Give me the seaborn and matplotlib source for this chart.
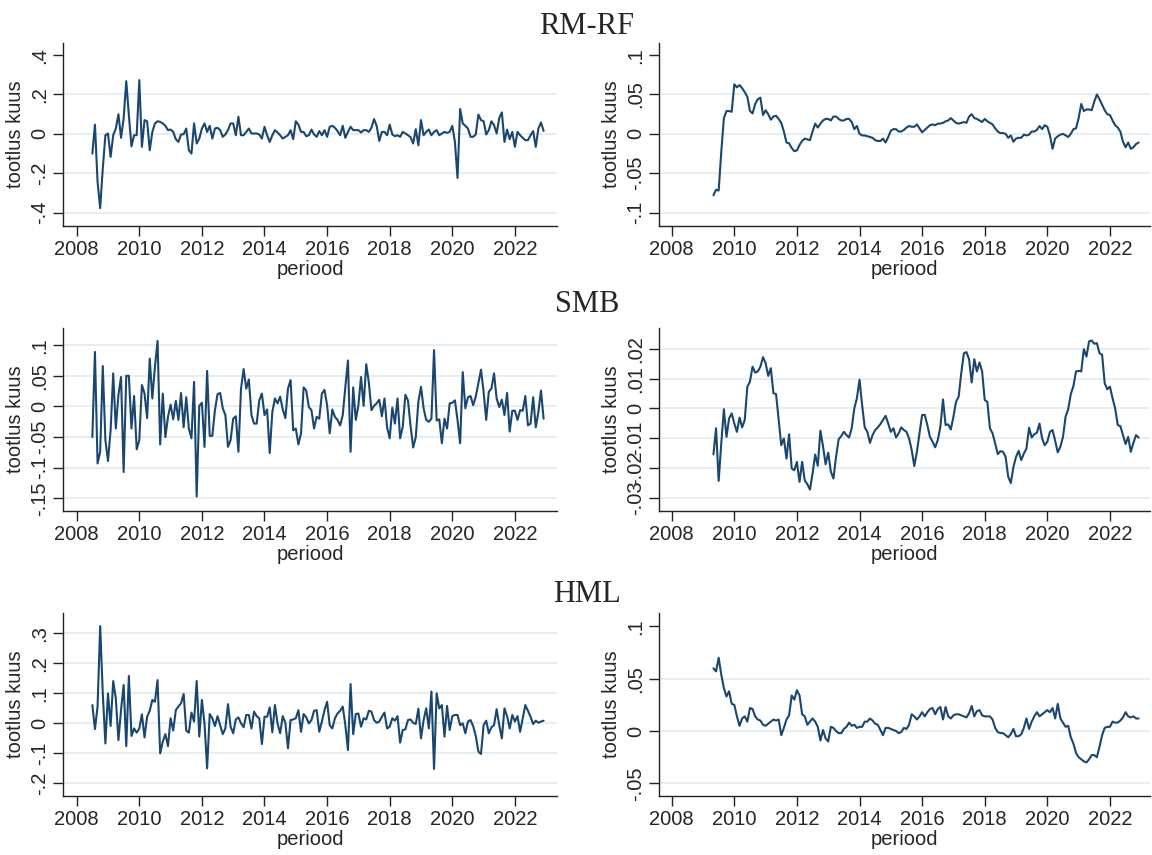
import numpy as np
import pandas as pd
import matplotlib
matplotlib.use("Agg")
import matplotlib.pyplot as plt
import seaborn as sns

# ---------------- data (monthly) ----------------
raw_start = "2008-07"
roll_start = "2009-05"

rmrf_raw = [
    -0.100, 0.047, -0.244, -0.377, -0.176, -0.007,
    0.002, -0.117, -0.007, 0.027, 0.100, -0.020, 0.078, 0.268, 0.095, -0.063, -0.007, -0.007,
    0.273, -0.066, 0.070, 0.064, -0.083, 0.010, 0.053, 0.064, 0.061, 0.053, 0.041, 0.019,
    0.022, 0.010, -0.027, -0.041, -0.003, -0.002, 0.027, -0.083, -0.100, 0.053, -0.049, -0.024,
    0.027, 0.053, 0.010, 0.041, -0.024, 0.027, 0.031, 0.019, -0.015, -0.003, 0.019, 0.053,
    0.053, -0.007, 0.087, -0.007, -0.007, 0.010, 0.027, 0.002, 0.002, 0.002, -0.003, -0.024,
    0.036, -0.007, -0.041, -0.007, 0.019, 0.007, -0.007, -0.024, -0.015, -0.007, 0.019, -0.027,
    0.064, 0.047, 0.010, 0.010, -0.012, -0.007, 0.022, -0.003, -0.015, 0.014, -0.007, 0.019,
    -0.015, 0.036, 0.041, 0.031, 0.014, -0.007, 0.041, -0.020, 0.010, 0.036, 0.019, 0.019,
    0.019, 0.007, 0.019, 0.019, 0.010, 0.031, 0.075, 0.041, -0.036, 0.010, 0.010, -0.007,
    0.047, -0.003, -0.012, -0.007, -0.015, 0.010, 0.002, -0.007, -0.017, -0.049, 0.024, -0.058,
    0.070, -0.007, 0.010, 0.022, -0.007, 0.010, 0.019, -0.007, 0.002, 0.010, 0.005, 0.010,
    0.041, -0.041, -0.224, 0.126, 0.053, 0.041, 0.027, -0.015, -0.015, -0.003, 0.098, 0.070,
    0.064, -0.003, 0.019, 0.064, 0.044, 0.002, 0.081, 0.109, -0.041, 0.022, -0.027, 0.010,
    -0.066, 0.010, -0.007, -0.020, -0.032, -0.032, -0.007, 0.014, -0.066, 0.027, 0.058, 0.015,
]

rmrf_roll = [
    -0.078, -0.071, -0.072, -0.023, 0.020, 0.029, 0.029, 0.028,
    0.063, 0.059, 0.062, 0.058, 0.053, 0.047, 0.029, 0.026, 0.038, 0.044, 0.046, 0.024,
    0.030, 0.025, 0.018, 0.022, 0.023, 0.019, 0.014, 0.003, -0.011, -0.012, -0.018, -0.022,
    -0.021, -0.014, -0.009, -0.006, -0.007, -0.008, 0.003, 0.013, 0.008, 0.013, 0.017, 0.019,
    0.019, 0.017, 0.022, 0.022, 0.019, 0.017, 0.017, 0.019, 0.019, 0.015, 0.006, 0.010,
    0.000, -0.002, -0.002, -0.003, -0.004, -0.005, -0.008, -0.009, -0.009, -0.006, -0.011, -0.004,
    0.004, 0.006, 0.006, 0.003, 0.003, 0.005, 0.008, 0.010, 0.009, 0.009, 0.012, 0.007,
    0.002, 0.005, 0.008, 0.011, 0.012, 0.011, 0.013, 0.013, 0.014, 0.016, 0.017, 0.020,
    0.017, 0.014, 0.013, 0.014, 0.015, 0.014, 0.022, 0.025, 0.020, 0.019, 0.017, 0.015,
    0.019, 0.016, 0.014, 0.012, 0.007, 0.003, 0.001, 0.001, 0.000, -0.005, -0.002, -0.010,
    -0.006, -0.005, -0.005, -0.001, -0.002, -0.001, 0.003, 0.003, 0.005, 0.010, 0.006, 0.011,
    0.009, -0.002, -0.019, -0.006, -0.003, -0.001, 0.000, -0.002, -0.004, 0.000, 0.006, 0.007,
    0.020, 0.038, 0.029, 0.031, 0.031, 0.030, 0.041, 0.050, 0.044, 0.037, 0.030, 0.025,
    0.024, 0.017, 0.011, 0.008, 0.003, -0.010, -0.017, -0.011, -0.019, -0.017, -0.013, -0.011,
]

smb_raw = [
    -0.050, 0.089, -0.093, -0.074, 0.066, -0.055,
    -0.089, -0.039, 0.054, -0.036, 0.019, 0.048, -0.107, 0.050, 0.050, -0.036, 0.017, -0.070,
    -0.055, 0.035, 0.021, -0.019, 0.078, 0.013, 0.065, 0.107, -0.062, 0.021, -0.050, -0.017,
    0.003, -0.021, 0.009, -0.022, 0.022, -0.034, 0.015, -0.036, -0.052, 0.040, -0.147, 0.001,
    0.006, -0.066, 0.058, -0.048, -0.048, -0.006, 0.020, 0.022, -0.003, -0.014, -0.066, -0.055,
    -0.020, -0.016, -0.074, 0.029, 0.061, 0.029, 0.044, -0.014, -0.028, -0.028, 0.010, 0.021,
    -0.014, -0.005, -0.076, -0.009, 0.013, 0.005, 0.016, -0.005, -0.019, 0.029, 0.043, -0.039,
    -0.036, -0.062, -0.044, 0.031, 0.026, -0.001, -0.006, -0.036, -0.017, -0.020, 0.021, 0.027,
    0.002, -0.044, -0.005, -0.017, -0.022, -0.031, -0.014, 0.032, 0.075, -0.074, 0.031, -0.022,
    0.002, 0.048, 0.001, 0.069, 0.039, -0.006, 0.001, 0.005, 0.011, -0.016, 0.013, -0.034,
    -0.052, -0.002, -0.028, 0.013, -0.052, -0.033, 0.019, 0.010, -0.032, -0.067, -0.050, 0.008,
    0.032, -0.003, -0.022, -0.025, -0.020, 0.092, -0.023, -0.021, -0.060, -0.020, -0.036, 0.005,
    0.006, 0.010, -0.022, -0.060, 0.056, -0.003, 0.015, 0.017, 0.002, 0.016, 0.038, 0.060,
    0.024, -0.022, 0.024, 0.029, 0.054, 0.013, -0.001, 0.011, -0.014, 0.022, -0.041, -0.007,
    -0.007, -0.022, -0.006, -0.007, 0.017, -0.031, -0.028, 0.015, -0.034, -0.009, 0.026, -0.020,
]

smb_roll = [
    -0.0155, -0.0067, -0.0244, -0.0118, -0.0003, -0.0096, -0.0034, -0.0017,
    -0.0051, -0.0079, -0.0031, -0.0064, -0.0039, 0.0073, 0.0090, 0.0140, 0.0120, 0.0124, 0.0140, 0.0172,
    0.0152, 0.0109, 0.0135, 0.0051, 0.0048, -0.0039, -0.0124, -0.0101, -0.0169, -0.0087, -0.0202, -0.0208,
    -0.0180, -0.0247, -0.0180, -0.0242, -0.0255, -0.0273, -0.0219, -0.0155, -0.0193, -0.0075, -0.0127, -0.0188,
    -0.0149, -0.0213, -0.0236, -0.0163, -0.0104, -0.0093, -0.0079, -0.0090, -0.0098, -0.0067, 0.0000, 0.0034,
    0.0096, 0.0011, -0.0064, -0.0079, -0.0116, -0.0090, -0.0073, -0.0064, -0.0053, -0.0039, -0.0025, -0.0051,
    -0.0079, -0.0067, -0.0098, -0.0084, -0.0064, -0.0073, -0.0079, -0.0101, -0.0140, -0.0194, -0.0146, -0.0084,
    -0.0022, -0.0022, -0.0056, -0.0096, -0.0112, -0.0131, -0.0107, -0.0062, 0.0030, -0.0056, -0.0054, -0.0071,
    -0.0028, 0.0022, 0.0039, 0.0118, 0.0185, 0.0189, 0.0165, 0.0087, 0.0165, 0.0124, 0.0154, 0.0124,
    0.0028, 0.0022, -0.0067, -0.0084, -0.0118, -0.0154, -0.0144, -0.0146, -0.0163, -0.0230, -0.0251, -0.0197,
    -0.0163, -0.0143, -0.0174, -0.0152, -0.0135, -0.0065, -0.0098, -0.0087, -0.0082, -0.0051, -0.0101, -0.0124,
    -0.0112, -0.0079, -0.0073, -0.0109, -0.0148, -0.0129, -0.0096, -0.0028, -0.0003, 0.0048, 0.0075, 0.0124,
    0.0126, 0.0124, 0.0199, 0.0174, 0.0225, 0.0228, 0.0217, 0.0219, 0.0185, 0.0180, 0.0084, 0.0064,
    0.0073, 0.0034, 0.0000, -0.0056, -0.0060, -0.0090, -0.0120, -0.0096, -0.0146, -0.0116, -0.0090, -0.0098,
]

hml_raw = [
    0.061, -0.019, 0.056, 0.324, 0.100, -0.067,
    0.100, -0.009, 0.141, 0.083, -0.056, 0.044, 0.128, -0.076, 0.158, -0.042, -0.017, -0.031,
    -0.017, 0.030, -0.047, 0.022, 0.042, 0.078, 0.072, 0.144, -0.100, -0.061, -0.036, -0.076,
    0.017, -0.024, 0.044, 0.056, 0.067, 0.098, -0.024, -0.031, 0.036, 0.006, 0.141, -0.044,
    0.078, 0.000, -0.150, 0.031, 0.017, -0.009, 0.024, -0.006, -0.036, -0.017, 0.064, -0.011,
    -0.033, 0.013, 0.020, 0.000, -0.013, 0.028, 0.028, -0.017, 0.039, 0.024, 0.017, -0.069,
    0.022, 0.022, 0.053, -0.030, 0.061, 0.000, -0.033, 0.024, 0.002, -0.083, 0.011, 0.013,
    0.017, 0.044, -0.028, 0.031, 0.020, 0.000, 0.011, 0.042, 0.044, -0.028, 0.006, 0.044,
    0.072, -0.006, -0.017, 0.017, 0.033, 0.042, 0.056, -0.006, -0.089, 0.131, -0.036, 0.031,
    0.033, -0.011, 0.017, 0.013, 0.042, 0.039, 0.011, 0.002, 0.006, 0.022, 0.036, -0.017,
    -0.011, 0.017, 0.009, 0.024, -0.064, -0.022, -0.020, 0.011, 0.013, 0.002, -0.002, 0.049,
    -0.050, 0.011, 0.050, -0.017, 0.106, -0.152, 0.100, 0.050, 0.061, -0.044, 0.058, -0.022,
    0.024, 0.028, 0.028, -0.006, 0.000, -0.033, 0.006, 0.011, -0.009, -0.042, -0.094, -0.102,
    -0.006, 0.009, -0.033, -0.013, -0.006, 0.047, -0.006, -0.050, 0.050, 0.024, -0.017, 0.028,
    0.006, 0.024, -0.028, 0.017, 0.061, 0.042, 0.022, -0.002, 0.009, 0.002, 0.006, 0.009,
]

hml_roll = [
    0.060, 0.057, 0.070, 0.054, 0.041, 0.033, 0.038, 0.026,
    0.025, 0.014, 0.005, 0.012, 0.014, 0.009, 0.022, 0.021, 0.014, 0.011, 0.010, 0.006,
    0.005, 0.007, 0.009, 0.011, 0.010, 0.011, -0.004, 0.003, 0.011, 0.015, 0.034, 0.030,
    0.039, 0.034, 0.016, 0.014, 0.006, 0.009, 0.012, 0.009, 0.004, -0.009, 0.001, -0.007,
    -0.010, 0.004, 0.003, 0.000, -0.002, -0.002, 0.002, 0.004, 0.008, 0.005, 0.006, 0.003,
    0.004, 0.004, 0.009, 0.009, 0.012, 0.010, 0.007, 0.006, 0.001, -0.004, 0.003, 0.003,
    0.002, 0.001, 0.000, -0.002, -0.001, 0.003, 0.002, 0.006, 0.016, 0.014, 0.011, 0.014,
    0.018, 0.014, 0.018, 0.021, 0.022, 0.016, 0.021, 0.023, 0.011, 0.023, 0.014, 0.012,
    0.015, 0.016, 0.016, 0.015, 0.014, 0.013, 0.017, 0.024, 0.014, 0.019, 0.020, 0.015,
    0.014, 0.014, 0.014, 0.011, 0.003, -0.001, -0.002, -0.002, -0.004, -0.006, -0.003, 0.002,
    -0.005, -0.005, -0.003, 0.003, 0.012, 0.002, 0.009, 0.014, 0.018, 0.014, 0.016, 0.018,
    0.020, 0.018, 0.022, 0.012, 0.026, 0.012, 0.008, 0.004, 0.005, -0.006, -0.012, -0.021,
    -0.025, -0.027, -0.029, -0.030, -0.027, -0.023, -0.023, -0.025, -0.015, -0.004, 0.003, 0.004,
    0.004, 0.009, 0.008, 0.008, 0.010, 0.013, 0.018, 0.014, 0.013, 0.014, 0.012, 0.012,
]

titles = ["RM-RF", "SMB", "HML"]
x_ticks = [2008, 2010, 2012, 2014, 2016, 2018, 2020, 2022]

rmrf_raw_ticks = [-0.4, -0.2, 0, 0.2, 0.4]
rmrf_raw_labels = ["-.4", "-.2", "0", ".2", ".4"]
rmrf_roll_ticks = [-0.1, -0.05, 0, 0.05, 0.1]
rmrf_roll_labels = ["-.1", "-.05", "0", ".05", ".1"]
smb_raw_ticks = [-0.15, -0.1, -0.05, 0, 0.05, 0.1]
smb_raw_labels = ["-.15", "-.1", "-.05", "0", ".05", ".1"]
smb_roll_ticks = [-0.03, -0.02, -0.01, 0, 0.01, 0.02]
smb_roll_labels = ["-.03", "-.02", "-.01", "0", ".01", ".02"]
hml_raw_ticks = [-0.2, -0.1, 0, 0.1, 0.2, 0.3]
hml_raw_labels = ["-.2", "-.1", "0", ".1", ".2", ".3"]
hml_roll_ticks = [-0.05, 0, 0.05, 0.1]
hml_roll_labels = ["-.05", "0", ".05", ".1"]

# ---------------- style ----------------
sns.set_style("white")
plt.rcParams["font.family"] = ["Liberation Sans", "DejaVu Sans"]

LINE = "#1a476f"
GRID = "#e6eef1"


def decimal_years(start, n):
    d = pd.date_range(start, periods=n, freq="MS")
    return np.asarray(d.year + (d.month - 1) / 12.0, dtype=float)


fig = plt.figure(figsize=(11.52, 8.55), dpi=100)
W, H = 1152.0, 855.0

rows_px = [(43, 226), (328, 511), (613, 796)]
cols_px = [(63.3, 557.0), (659.0, 1150.0)]
xlims = [(2007.572, 2023.345), (2007.594, 2023.28)]

panels = [
    [(rmrf_raw, raw_start, rmrf_raw_ticks, rmrf_raw_labels, (-0.468, 0.4616), [-0.4, -0.2, 0, 0.2]),
     (rmrf_roll, roll_start, rmrf_roll_ticks, rmrf_roll_labels, (-0.117, 0.1154), [-0.1, -0.05, 0, 0.05])],
    [(smb_raw, raw_start, smb_raw_ticks, smb_raw_labels, (-0.1706, 0.128), smb_raw_ticks),
     (smb_roll, roll_start, smb_roll_ticks, smb_roll_labels, (-0.0345, 0.027), smb_roll_ticks)],
    [(hml_raw, raw_start, hml_raw_ticks, hml_raw_labels, (-0.242, 0.3677), hml_raw_ticks),
     (hml_roll, roll_start, hml_roll_ticks, hml_roll_labels, (-0.0621, 0.1128), [-0.05, 0, 0.05])],
]

title_y_px = [26, 305, 594]

for r, (top, bot) in enumerate(rows_px):
    for c, (lft, rgt) in enumerate(cols_px):
        vals, start, yt, yl, ylim, grids = panels[r][c]
        ax = fig.add_axes([lft / W, 1 - bot / H, (rgt - lft) / W, (bot - top) / H])
        df = pd.DataFrame({"periood": decimal_years(start, len(vals)), "tootlus": vals})
        for g in grids:
            ax.axhline(g, color=GRID, lw=1.4, zorder=0)
        sns.lineplot(data=df, x="periood", y="tootlus", ax=ax, color=LINE, lw=1.5)
        ax.set_xlim(*xlims[c])
        ax.set_ylim(*ylim)
        ax.set_xticks(x_ticks)
        ax.set_xticklabels([str(t) for t in x_ticks])
        ax.set_yticks(yt)
        ax.set_yticklabels(yl, rotation=90, va="center")
        ax.grid(False)
        for s in ["top", "right"]:
            ax.spines[s].set_visible(False)
        for s in ["left", "bottom"]:
            ax.spines[s].set_color("#222222")
            ax.spines[s].set_linewidth(1.0)
        ax.tick_params(axis="both", direction="out", length=7, width=1.0,
                       color="#222222", labelsize=14.5, pad=3, bottom=True, left=True)
        ax.set_xlabel("periood", fontsize=14.5, labelpad=1)
        ax.set_ylabel("tootlus kuus", fontsize=14.5, labelpad=4)
    fig.text(587 / W, 1 - title_y_px[r] / H, titles[r], ha="center", va="center",
             family=["Liberation Serif", "DejaVu Serif"], fontsize=22)

fig.savefig("out.png", dpi=100, facecolor="white")
